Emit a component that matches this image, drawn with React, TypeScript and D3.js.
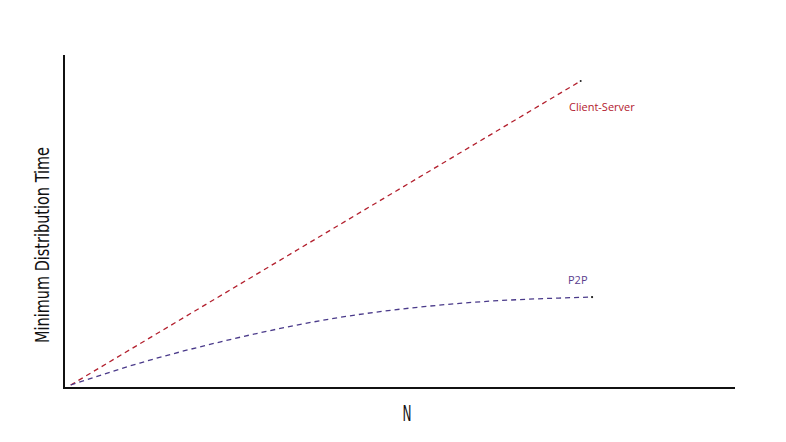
import React from "react";
import * as d3 from "d3";

const csN = [1, 77];
const csTime = [0.9, 92.2];
const p2pN = [1, 11.3, 23.2, 41.1, 59.5, 78.4];
const p2pTime = [0.9, 7.5, 13.8, 21.2, 25.5, 27.3];
const xLabel = "N";
const yLabel = "Minimum Distribution Time";
const csName = "Client-Server";
const p2pName = "P2P";

const W = 786, H = 442;
const left = 64, right = 735, top = 55, bottom = 388;

export default function App() {
  const x = d3.scaleLinear().domain([0, 100]).range([left, right]);
  const y = d3.scaleLinear().domain([0, 100]).range([bottom, top]);
  const line = d3
    .line<[number, number]>()
    .x((d) => x(d[0]))
    .y((d) => y(d[1]))
    .curve(d3.curveMonotoneX);
  const cs = csN.map((n, i) => [n, csTime[i]] as [number, number]);
  const p2p = p2pN.map((n, i) => [n, p2pTime[i]] as [number, number]);
  const font = "'DejaVu Sans Condensed', 'DejaVu Sans', sans-serif";
  const csEnd = cs[cs.length - 1];
  const p2pEnd = p2p[p2p.length - 1];
  return (
    <svg width={W} height={H} style={{ position: "absolute", left: 0, top: 0, background: "#fff" }}>
      <path d={line(cs) || ""} fill="none" stroke="#b3202e" strokeWidth={1.3} strokeDasharray="5,4" />
      <path d={line(p2p) || ""} fill="none" stroke="#4a3a8a" strokeWidth={1.3} strokeDasharray="5,4" />
      <circle cx={x(csEnd[0])} cy={y(csEnd[1])} r={1} fill="#222" />
      <circle cx={x(p2pEnd[0]) + 2} cy={y(p2pEnd[1])} r={1.1} fill="#111" />
      <line x1={x(0)} y1={y(0)} x2={right} y2={y(0)} stroke="#111" strokeWidth={2} />
      <line x1={x(0)} y1={y(0) + 1} x2={x(0)} y2={top} stroke="#111" strokeWidth={2} />
      <text x={569} y={111} fill="#b3202e" fontSize={11} fontFamily="'Open Sans', sans-serif">{csName}</text>
      <text x={568} y={284} fill="#5a3d8e" fontSize={11} fontFamily="'Open Sans', sans-serif">{p2pName}</text>
      <text x={407} y={421} textAnchor="middle" fontSize={21} fontFamily={font} fontStretch="condensed" textLength={9} lengthAdjust="spacingAndGlyphs" fill="#111">{xLabel}</text>
      <text transform={`translate(49,245) rotate(-90)`} textAnchor="middle" fontSize={19.5} fontFamily={font} fontStretch="condensed" textLength={196} lengthAdjust="spacingAndGlyphs" fill="#111">{yLabel}</text>
    </svg>
  );
}
